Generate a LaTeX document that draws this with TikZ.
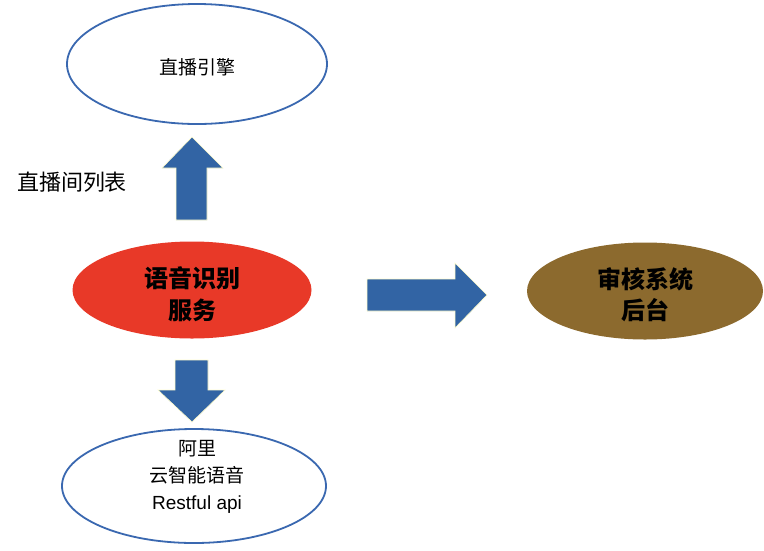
\documentclass[tikz,border=0pt]{standalone}
\usepackage{fontspec}
\setmainfont{Noto Sans CJK SC}
\newfontfamily\latinsans{Liberation Sans}
\usetikzlibrary{shapes.geometric}
\definecolor{arrowblue}{RGB}{50,100,164}
\definecolor{edgeblue}{RGB}{58,104,176}
\definecolor{asrred}{RGB}{232,57,40}
\definecolor{auditbrown}{RGB}{140,106,46}
\begin{document}
\begin{tikzpicture}[x=1pt,y=-1pt]
\tikzset{
  whiteoval/.style={ellipse, draw=edgeblue, line width=1.8pt, fill=white, inner sep=0pt},
  filledoval/.style={ellipse, inner sep=0pt},
  bigarrow/.style={fill=arrowblue, draw=white!80!yellow, line width=0.6pt},
  ovaltext/.style={align=center, text=black, inner sep=0pt}
}
\useasboundingbox (0,0) rectangle (764,550);
% nodes
\node[whiteoval, minimum width=260pt, minimum height=120pt] (engine) at (197,64) {};
\node[ovaltext, font=\fontsize{19}{22}\selectfont] (enginetext) at (197,67) {直播引擎};

\node[filledoval, fill=asrred, minimum width=239pt, minimum height=97pt] (asr) at (192,290) {};
\node[ovaltext, font=\fontsize{24}{32}\selectfont\bfseries] (asrtext) at (192,294) {语音识别\\服务};

\node[filledoval, fill=auditbrown, minimum width=236pt, minimum height=97pt] (audit) at (645,291) {};
\node[ovaltext, font=\fontsize{24}{31}\selectfont\bfseries] (audittext) at (645,295) {审核系统\\后台};

\node[whiteoval, minimum width=264pt, minimum height=114pt] (ali) at (194,486) {};
\node[ovaltext, font=\fontsize{19}{27}\selectfont] (alitext) at (197,477) {阿里\\云智能语音\\{\latinsans Restful api}};

\node[inner sep=0pt, font=\fontsize{22}{24}\selectfont] (listlabel) at (72,182) {直播间列表};

% block arrows
\fill[bigarrow] (176,220) -- (176,168) -- (162,168) -- (192,137) -- (223,168) -- (207,168) -- (207,220) -- cycle;
\fill[bigarrow] (367,279) -- (455,279) -- (455,263) -- (487,295) -- (455,328) -- (455,311) -- (367,311) -- cycle;
\fill[bigarrow] (175,360) -- (208,360) -- (208,390) -- (225,390) -- (192,422) -- (158,390) -- (175,390) -- cycle;
\end{tikzpicture}
\end{document}
